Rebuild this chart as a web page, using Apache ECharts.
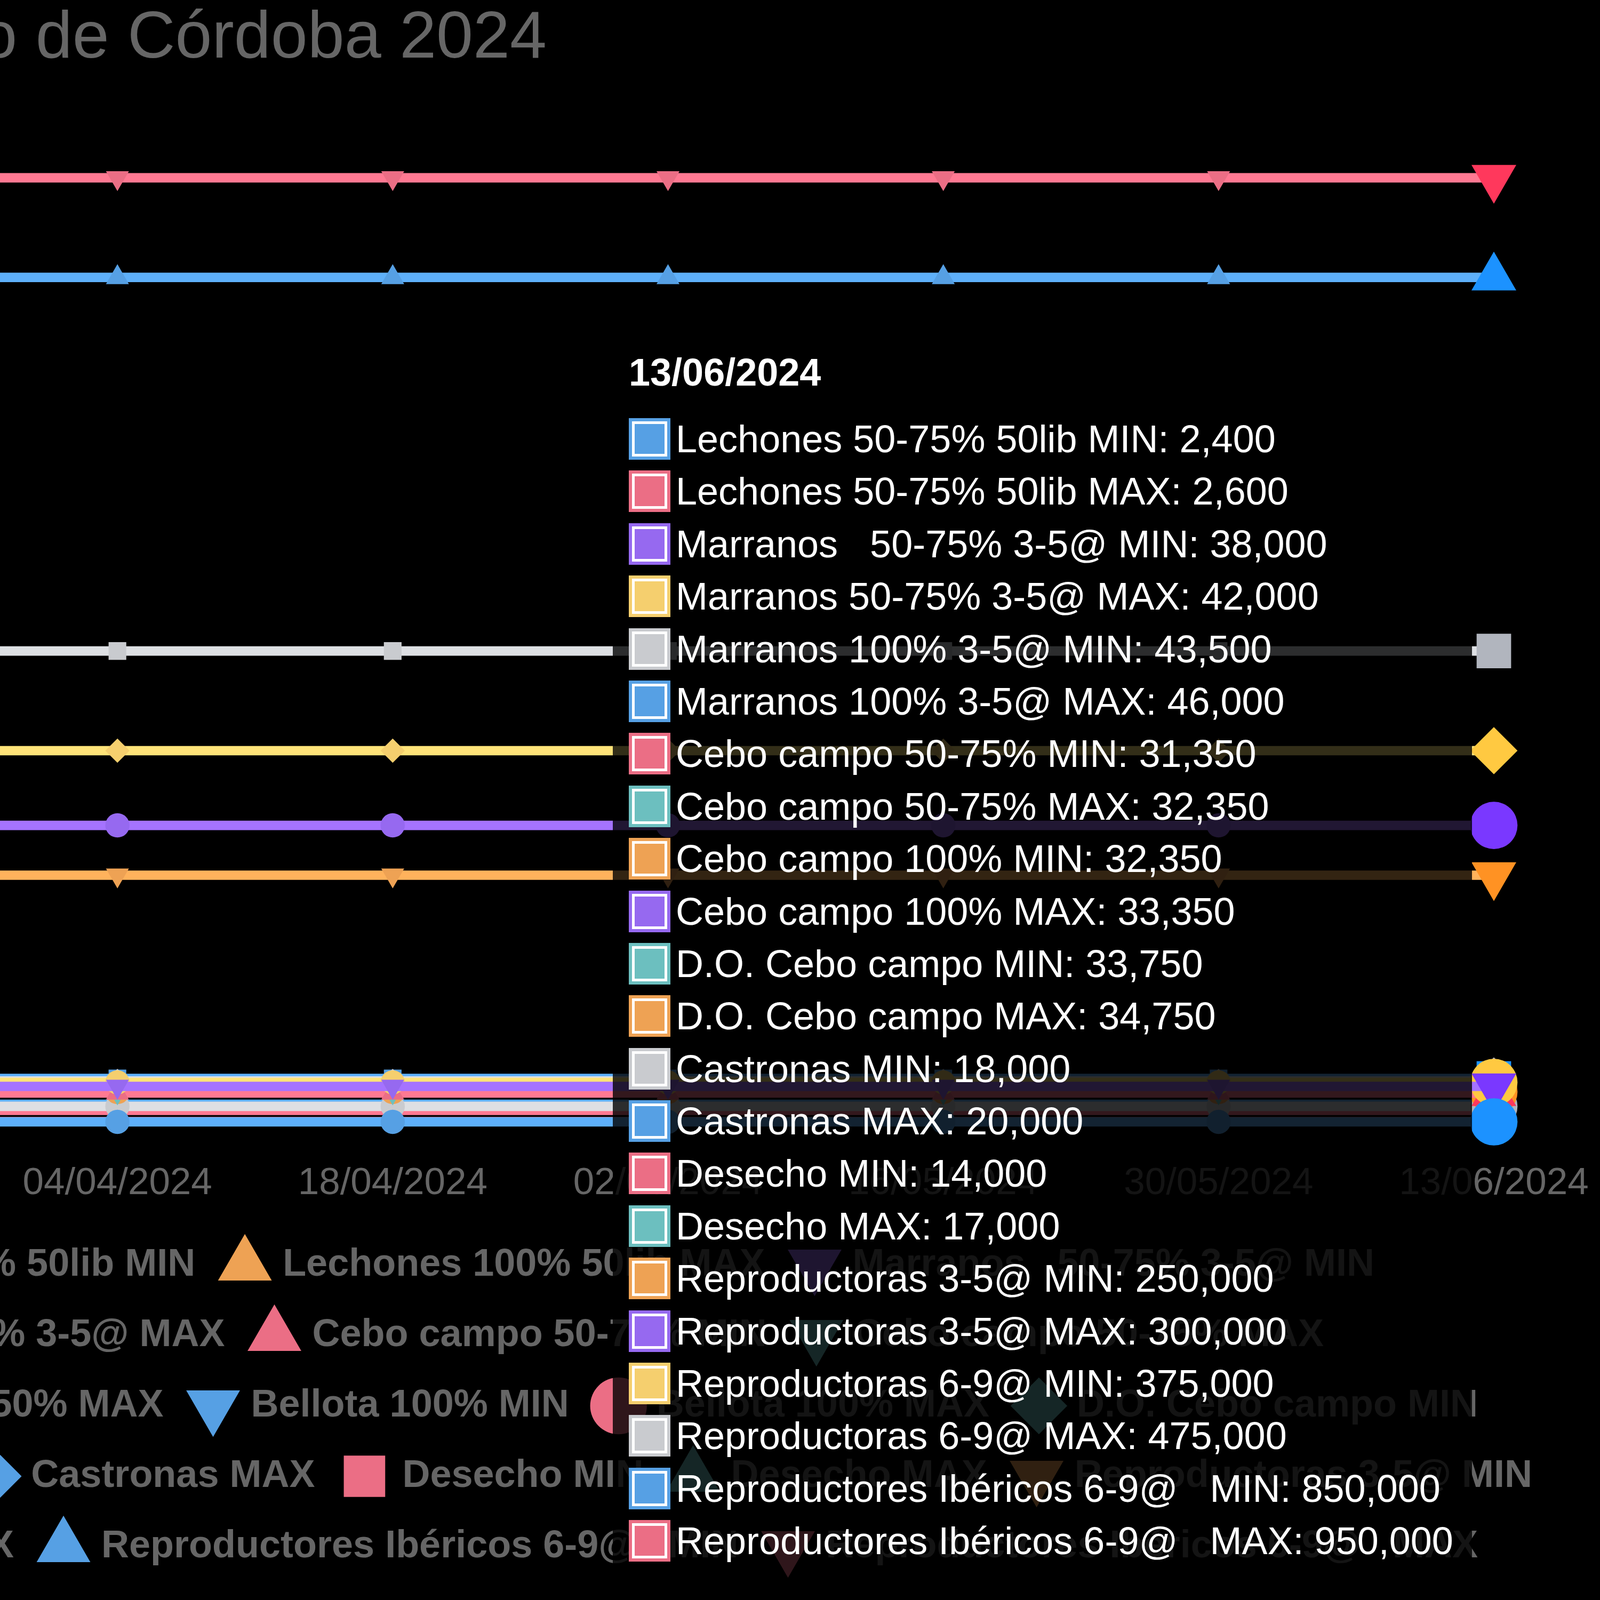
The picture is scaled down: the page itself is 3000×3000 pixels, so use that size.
<!DOCTYPE html>
<html>
<head>
<meta charset="utf-8">
<title>Precios porcino ibérico - Córdoba 2024</title>
<script src="https://cdn.jsdelivr.net/npm/echarts@6/dist/echarts.min.js"></script>
<style>
  html, body { margin: 0; padding: 0; background: #000; overflow: hidden; }
  #chart { width: 3000px; height: 3000px; }
</style>
</head>
<body>
<div id="chart"></div>
<script>
// fechas de sesión (cada 14 días); la primera queda fuera de la vista
const dates = ['21/03/2024', '04/04/2024', '18/04/2024', '02/05/2024', '16/05/2024', '30/05/2024', '13/06/2024']

// precios (constantes en el tramo visible)
const lechones5075Min = [2400, 2400, 2400, 2400, 2400, 2400, 2400]
const lechones5075Max = [2600, 2600, 2600, 2600, 2600, 2600, 2600]
const lechones100Min = []
const lechones100Max = []
const marranos5075Min = [38000, 38000, 38000, 38000, 38000, 38000, 38000]
const marranos5075Max = [42000, 42000, 42000, 42000, 42000, 42000, 42000]
const marranos100Min = [43500, 43500, 43500, 43500, 43500, 43500, 43500]
const marranos100Max = [46000, 46000, 46000, 46000, 46000, 46000, 46000]
const ceboCampo5075Min = [31350, 31350, 31350, 31350, 31350, 31350, 31350]
const ceboCampo5075Max = [32350, 32350, 32350, 32350, 32350, 32350, 32350]
const ceboCampo100Min = [32350, 32350, 32350, 32350, 32350, 32350, 32350]
const ceboCampo100Max = [33350, 33350, 33350, 33350, 33350, 33350, 33350]
const bellota50Min = []
const bellota50Max = []
const bellota100Min = []
const bellota100Max = []
const doCeboCampoMin = [33750, 33750, 33750, 33750, 33750, 33750, 33750]
const doCeboCampoMax = [34750, 34750, 34750, 34750, 34750, 34750, 34750]
const doBellotaMin = []
const doBellotaMax = []
const castronasMin = [18000, 18000, 18000, 18000, 18000, 18000, 18000]
const castronasMax = [20000, 20000, 20000, 20000, 20000, 20000, 20000]
const desechoMin = [14000, 14000, 14000, 14000, 14000, 14000, 14000]
const desechoMax = [17000, 17000, 17000, 17000, 17000, 17000, 17000]
const reproductoras35Min = [250000, 250000, 250000, 250000, 250000, 250000, 250000]
const reproductoras35Max = [300000, 300000, 300000, 300000, 300000, 300000, 300000]
const reproductoras69Min = [375000, 375000, 375000, 375000, 375000, 375000, 375000]
const reproductoras69Max = [475000, 475000, 475000, 475000, 475000, 475000, 475000]
const ibericos69Min = [850000, 850000, 850000, 850000, 850000, 850000, 850000]
const ibericos69Max = [950000, 950000, 950000, 950000, 950000, 950000, 950000]

const seriesNames = [
  'Lechones 50-75% 50lib MIN', 'Lechones 50-75% 50lib MAX',
  'Lechones 100% 50lib MIN', 'Lechones 100% 50lib MAX',
  'Marranos   50-75% 3-5@ MIN', 'Marranos 50-75% 3-5@ MAX',
  'Marranos 100% 3-5@ MIN', 'Marranos 100% 3-5@ MAX',
  'Cebo campo 50-75% MIN', 'Cebo campo 50-75% MAX',
  'Cebo campo 100% MIN', 'Cebo campo 100% MAX',
  'Bellota 50% MIN', 'Bellota 50% MAX',
  'Bellota 100% MIN', 'Bellota 100% MAX',
  'D.O. Cebo campo MIN', 'D.O. Cebo campo MAX',
  'D.O. Bellota MIN', 'D.O. Bellota MAX',
  'Castronas MIN', 'Castronas MAX',
  'Desecho MIN', 'Desecho MAX',
  'Reproductoras 3-5@ MIN', 'Reproductoras 3-5@ MAX',
  'Reproductoras 6-9@ MIN', 'Reproductoras 6-9@ MAX',
  'Reproductores Ibéricos 6-9@   MIN', 'Reproductores Ibéricos 6-9@   MAX'
]

const seriesValues = [
  lechones5075Min, lechones5075Max, lechones100Min, lechones100Max,
  marranos5075Min, marranos5075Max, marranos100Min, marranos100Max,
  ceboCampo5075Min, ceboCampo5075Max, ceboCampo100Min, ceboCampo100Max,
  bellota50Min, bellota50Max, bellota100Min, bellota100Max,
  doCeboCampoMin, doCeboCampoMax, doBellotaMin, doBellotaMax,
  castronasMin, castronasMax, desechoMin, desechoMax,
  reproductoras35Min, reproductoras35Max, reproductoras69Min, reproductoras69Max,
  ibericos69Min, ibericos69Max
]

const palette = ['#56A0E4', '#EB6E85', '#6CBFBF', '#EEA254', '#9669F0', '#F5CF6E', '#C9CBCF']

// color resaltado: más saturado y algo más oscuro
function hoverColor(hex) {
  let r = parseInt(hex.slice(1, 3), 16) / 255
  let g = parseInt(hex.slice(3, 5), 16) / 255
  let b = parseInt(hex.slice(5, 7), 16) / 255
  const max = Math.max(r, g, b), min = Math.min(r, g, b)
  let h = 0, s = 0, l = (max + min) / 2
  const d = max - min
  if (d) {
    s = d / (1 - Math.abs(2 * l - 1))
    if (max === r) h = 60 * (((g - b) / d + 6) % 6)
    else if (max === g) h = 60 * ((b - r) / d + 2)
    else h = 60 * ((r - g) / d + 4)
  }
  s = Math.min(1, s * 1.5)
  l = l * 0.9
  const c = (1 - Math.abs(2 * l - 1)) * s
  const x = c * (1 - Math.abs((h / 60) % 2 - 1))
  const m = l - c / 2
  const k = Math.floor(h / 60) % 6
  const rgb = [[c, x, 0], [x, c, 0], [0, c, x], [0, x, c], [x, 0, c], [c, 0, x]][k]
  return 'rgb(' + rgb.map(v => Math.round((v + m) * 255)).join(',') + ')'
}
const hoverPalette = palette.map(hoverColor)

// símbolos con un marco invisible para que cada forma conserve su tamaño relativo
const frame = 'M-55,-55 M55,55 '
const symbols = [
  'path://' + frame + 'M-50,0 A50,50 0 1,0 50,0 A50,50 0 1,0 -50,0 Z',
  'path://' + frame + 'M0,-50 L50,0 L0,50 L-50,0 Z',
  'path://' + frame + 'M-36.5,-36.5 L36.5,-36.5 L36.5,36.5 L-36.5,36.5 Z',
  'path://' + frame + 'M0,-54.7 L47.4,27.35 L-47.4,27.35 Z',
  'path://' + frame + 'M0,54.7 L47.4,-27.35 L-47.4,-27.35 Z'
]

const legendRows = [[0, 4], [5, 9], [10, 16], [17, 24], [25, 29]]
const legendRowEnds = [2577, 2482, 2771, 2873, 2771]
const legendRowCenters = [2372, 2504, 2636, 2768, 2900]

const fontFamily = "'Liberation Sans', Arial, Helvetica, sans-serif"
const lineWidth = 17.7

const chart = echarts.init(document.getElementById('chart'))

function tooltipHtml(params) {
  const rows = params.filter(p => p.value != null && !isNaN(p.value))
  let html = '<div style="font-weight:bold;line-height:86px;height:86px;margin-bottom:39px;">' + params[0].axisValue + '</div>'
  rows.forEach((p, k) => {
    html += '<div style="display:flex;align-items:center;height:86px;line-height:86px;' + (k ? 'margin-top:12.4px;' : '') + '">' +
      '<span style="display:inline-block;box-sizing:border-box;width:78px;height:78px;margin-right:10px;background:' + p.color +
      ';border:6px solid ' + p.color + ';box-shadow:inset 0 0 0 5px #fff;"></span>' +
      '<span style="white-space:pre;">' + p.seriesName + ': ' + p.value.toLocaleString('en-US') + '</span></div>'
  })
  return html
}

chart.setOption({
  backgroundColor: '#000',
  animation: false,
  color: palette,
  textStyle: { fontFamily },
  title: {
    text: 'Precios Lonja Porcino Ibérico de Córdoba 2024',
    right: 1970,
    top: 7,
    textStyle: { fontSize: 124, fontWeight: 'normal', color: '#666', fontFamily }
  },
  grid: { left: -296, right: 199, top: 240, bottom: 892, outerBoundsMode: 'none' },
  xAxis: {
    type: 'category',
    data: dates,
    boundaryGap: false,
    axisLine: { show: false },
    axisTick: { show: false },
    splitLine: { show: false },
    axisLabel: { color: '#666', fontSize: 71, fontFamily, margin: 76, interval: 0 }
  },
  yAxis: { type: 'value', min: 0, max: 1000000, show: false, splitLine: { show: false } },
  legend: legendRows.map((row, r) => ({
    data: seriesNames.slice(row[0], row[1] + 1).map((name, k) => ({ name, icon: symbols[(row[0] + k) % 5] })),
    right: 3000 - legendRowEnds[r] - 5,
    top: legendRowCenters[r] - 117 / 2 - 5,
    width: 8000,
    itemWidth: 132,
    itemHeight: 117,
    itemGap: 34.5,
    itemStyle: { borderWidth: 0 },
    textStyle: { color: '#666', fontWeight: 'bold', fontSize: 72, fontFamily }
  })),
  tooltip: {
    trigger: 'axis',
    alwaysShowContent: true,
    transitionDuration: 0,
    position: [1149, 620],
    backgroundColor: 'rgba(0,0,0,0.8)',
    borderWidth: 0,
    borderRadius: 35,
    padding: [35, 35, 35, 30],
    extraCssText: 'box-shadow:none;',
    textStyle: { color: '#fff', fontSize: 72, fontFamily },
    axisPointer: { type: 'line', lineStyle: { color: 'rgba(0,0,0,0)', width: 0 } },
    formatter: tooltipHtml
  },
  series: seriesNames.map((name, i) => ({
    name,
    type: 'line',
    data: seriesValues[i],
    symbol: symbols[i % 5],
    symbolSize: 50,
    showAllSymbol: true,
    z: 2 + seriesNames.length - i,
    lineStyle: { width: lineWidth },
    itemStyle: { borderWidth: 0 },
    emphasis: {
      scale: 1.95,
      lineStyle: { width: lineWidth },
      itemStyle: { color: hoverPalette[i % 7], borderWidth: 0 }
    }
  }))
})

chart.dispatchAction({ type: 'showTip', seriesIndex: 0, dataIndex: dates.length - 1 })
</script>
</body>
</html>
